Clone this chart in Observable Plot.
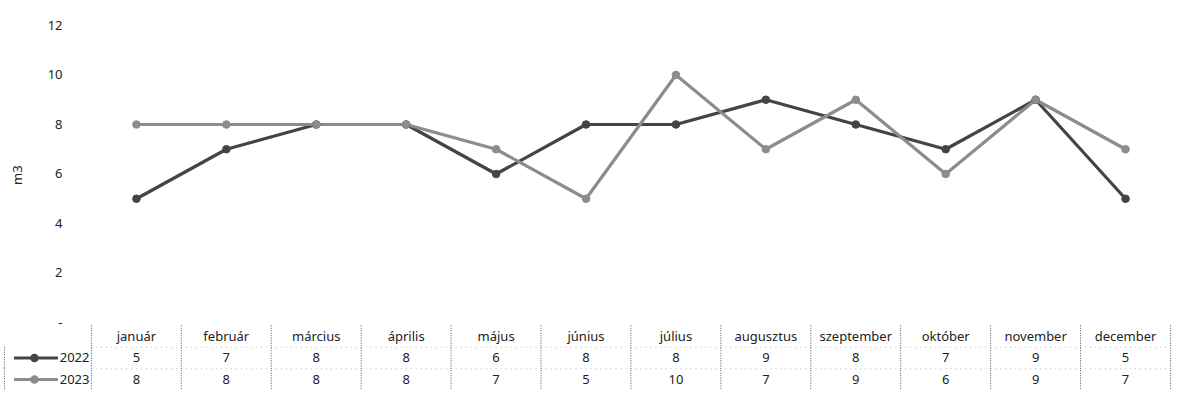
<!DOCTYPE html>
<html>
<head>
<meta charset="utf-8">
<script src="https://cdn.jsdelivr.net/npm/d3@7"></script>
<script src="https://cdn.jsdelivr.net/npm/@observablehq/plot@0.6"></script>
<style>
  body { margin: 0; background: #fff; }
  #chart svg { display: block; }
  #chart svg.table { margin-top: -7px; }
</style>
</head>
<body>
<div id="chart"></div>
<script>
const months = ["január","február","március","április","május","június","július","augusztus","szeptember","október","november","december"];
const series = ["2022", "2023"];
const values2022 = [5, 7, 8, 8, 6, 8, 8, 9, 8, 7, 9, 5];
const values2023 = [8, 8, 8, 8, 7, 5, 10, 7, 9, 6, 9, 7];
const yTicks = [0, 2, 4, 6, 8, 10, 12];
const yLabel = "m3";
const colors = {"2022": "#444444", "2023": "#8c8c8c"};

const data = [];
months.forEach((m, i) => {
  data.push({month: m, series: "2022", value: values2022[i]});
  data.push({month: m, series: "2023", value: values2023[i]});
});

const font = "'Noto Sans', sans-serif";

const chart = Plot.plot({
  width: 1183,
  height: 332,
  marginLeft: 91,
  marginRight: 13,
  marginTop: 25,
  marginBottom: 10,
  style: {fontFamily: font, fontSize: "13px", color: "#222", background: "#fff"},
  x: {type: "band", domain: months, padding: 0, round: false, axis: null},
  y: {domain: [0, 12], ticks: yTicks, tickSize: 0, tickPadding: 29,
      tickFormat: d => d === 0 ? "-" : d, label: null},
  color: {domain: series, range: series.map(s => colors[s])},
  marks: [
    Plot.line(data, {x: "month", y: "value", z: "series", stroke: "series", strokeWidth: 3.2}),
    Plot.dot(data, {x: "month", y: "value", fill: "series", stroke: "series", r: 3.8, strokeWidth: 1}),
    Plot.text([yLabel], {frameAnchor: "left", dx: -74, dy: 11, text: d => d, rotate: -90, fontSize: 13, fill: "#222"})
  ]
});

const rows = ["header", ...series];
const cols = ["legend", ...months];
const cells = [];
months.forEach((m, i) => {
  cells.push({col: m, row: "header", text: m});
  cells.push({col: m, row: "2022", text: String(values2022[i])});
  cells.push({col: m, row: "2023", text: String(values2023[i])});
});
const legendRows = series.map(s => ({col: "legend", row: s, series: s}));

const table = Plot.plot({
  className: "table",
  width: 1183,
  height: 71,
  marginLeft: 1,
  marginRight: 13,
  marginTop: 0.25,
  marginBottom: 6.25,
  style: {fontFamily: font, fontSize: "13px", background: "transparent"},
  x: {type: "band", domain: cols, padding: 0, round: false, axis: null},
  y: {type: "band", domain: rows, padding: 0, round: false, axis: null},
  color: {domain: series, range: series.map(s => colors[s])},
  marks: [
    Plot.tickY(months.flatMap(m => series.map(r => ({col: m, row: r}))), {
      x: "col", y: "row", dy: -10.75, stroke: "#bbb", strokeDasharray: "1,4", strokeWidth: 1
    }),
    Plot.tickX(cols.slice(1), {x: d => d, dx: -45, stroke: "#555", strokeDasharray: "1,1.5", strokeWidth: 1}),
    Plot.tickX(["december"], {x: d => d, dx: 45, stroke: "#555", strokeDasharray: "1,1.5", strokeWidth: 1}),
    Plot.tickX(legendRows, {x: "col", y: "row", dx: -42, stroke: "#555", strokeDasharray: "1,1.5", strokeWidth: 1}),
    Plot.text(cells, {x: "col", y: "row", text: "text", fill: "#222", fontSize: 13}),
    Plot.tickY(legendRows, {x: "col", y: "row", stroke: "series", strokeWidth: 3, insetLeft: 13, insetRight: 33}),
    Plot.dot(legendRows, {x: "col", y: "row", dx: -12, fill: "series", stroke: "series", r: 3.5}),
    Plot.text(legendRows, {x: "col", y: "row", text: "series", textAnchor: "end", dx: 43, fill: "#222", fontSize: 13})
  ]
});

document.getElementById("chart").append(chart, table);
</script>
</body>
</html>
